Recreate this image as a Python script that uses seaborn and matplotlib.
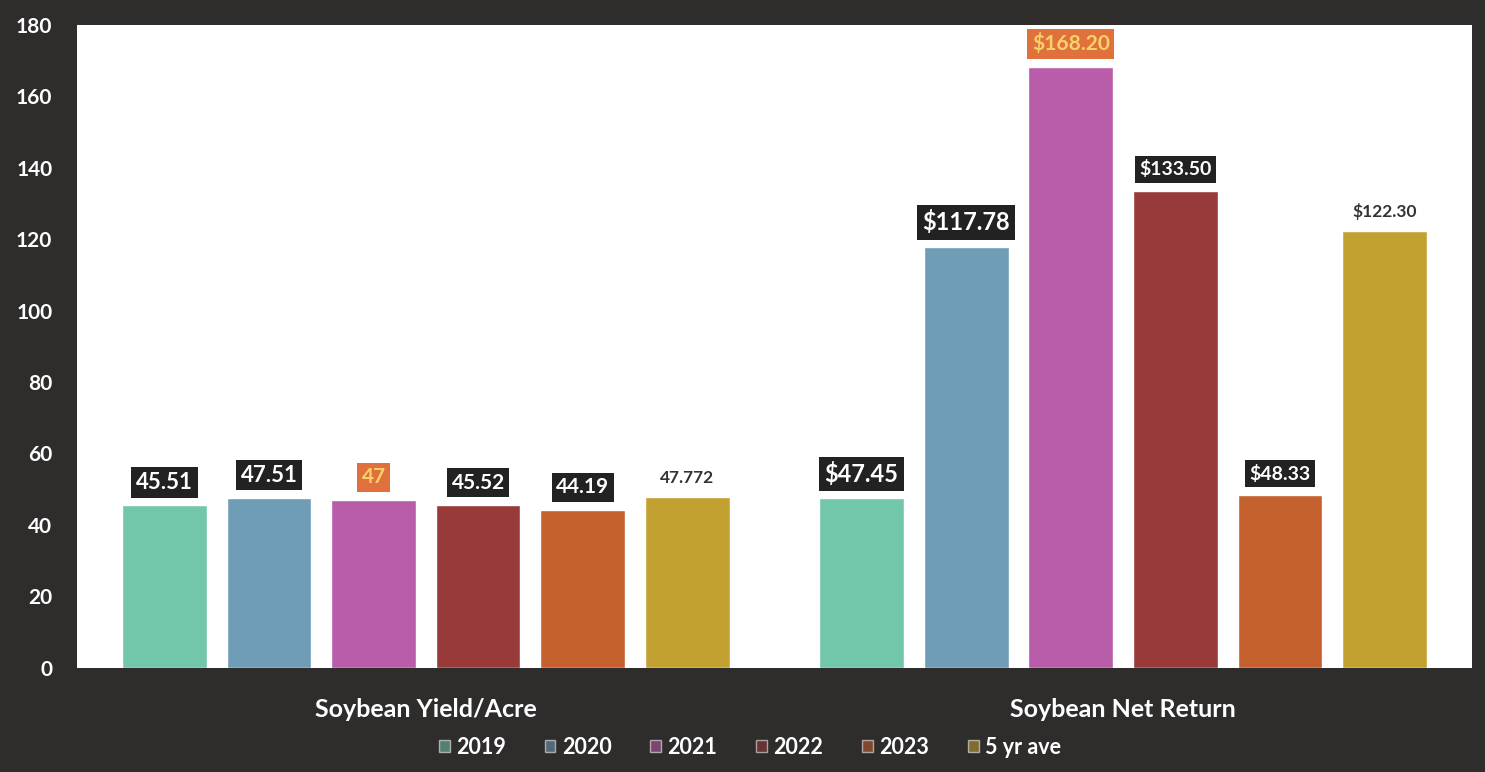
import matplotlib
matplotlib.use("Agg")
import matplotlib.pyplot as plt
import seaborn as sns
import pandas as pd

# data
categories = ["Soybean Yield/Acre", "Soybean Net Return"]
years = ["2019", "2020", "2021", "2022", "2023", "5 yr ave"]
yield_vals = [45.51, 47.51, 47, 45.52, 44.19, 47.772]
return_vals = [47.45, 117.78, 168.20, 133.50, 48.33, 122.30]
yield_labels = ["45.51", "47.51", "47", "45.52", "44.19", "47.772"]
return_labels = ["$47.45", "$117.78", "$168.20", "$133.50", "$48.33", "$122.30"]

colors = ["#72c7ab", "#6f9db6", "#b95ca9", "#983a3a", "#c4612e", "#c3a131"]

df = pd.DataFrame({
    "category": [categories[0]] * len(years) + [categories[1]] * len(years),
    "year": years * 2,
    "value": yield_vals + return_vals,
})
labels = {categories[0]: yield_labels, categories[1]: return_labels}

sns.set_theme(style="white")
plt.rcParams["font.family"] = ["Lato", "DejaVu Sans"]

fig = plt.figure(figsize=(14.85, 7.72), dpi=100)
fig.patch.set_facecolor("#2f2c2c")
ax = fig.add_axes([0.052, 0.135, 0.939, 0.833])
ax.set_facecolor("white")

sns.barplot(data=df, x="category", y="value", hue="year", order=categories,
            hue_order=years, palette=colors, width=0.9, gap=0.19,
            saturation=1, ax=ax, legend=True)

ax.set_ylim(0, 180)
ax.set_yticks(range(0, 181, 20))
ax.set_xlim(-0.5, 1.5)
ax.set_xlabel("")
ax.set_ylabel("")
for s in ax.spines.values():
    s.set_visible(False)
ax.tick_params(axis="y", colors="white", labelsize=15, length=0, pad=18)
ax.tick_params(axis="x", colors="white", labelsize=18, length=0, pad=22)
for t in ax.get_yticklabels() + ax.get_xticklabels():
    t.set_fontweight("bold")

# label styles: dark box by default, special cases below
dark = dict(boxstyle="square,pad=0.22", fc="#222222", ec="none")
orange = dict(boxstyle="square,pad=0.22", fc="#e0703c", ec="none")
for hi, cont in enumerate(ax.containers):
    for ci, bar in enumerate(cont):
        txt = labels[categories[ci]][hi]
        x = bar.get_x() + bar.get_width() / 2
        h = bar.get_height()
        if years[hi] == "5 yr ave":
            ax.annotate(txt, (x, h), xytext=(0, 8), textcoords="offset points",
                        ha="center", va="bottom", fontsize=12.5, color="#333333",
                        fontweight="bold")
        elif years[hi] == "2021":
            ax.annotate(txt, (x, h), xytext=(0, 9), textcoords="offset points",
                        ha="center", va="bottom", fontsize=15, color="#f5d36a",
                        fontweight="bold", bbox=orange)
        else:
            size = 17 if ci == 1 and hi in (0, 1) else 16
            if hi in (3, 4):
                size = 14 if ci == 1 else 15
            ax.annotate(txt, (x, h), xytext=(0, 9), textcoords="offset points",
                        ha="center", va="bottom", fontsize=size, color="white",
                        fontweight="bold", bbox=dark)

handles, leg_labels = ax.get_legend_handles_labels()
ax.get_legend().remove()
leg = fig.legend(handles, leg_labels, loc="center", bbox_to_anchor=(0.505, 0.032),
                 ncol=6, frameon=False, fontsize=15.5, handlelength=0.5,
                 handleheight=0.5, handletextpad=0.3, columnspacing=1.8)
for t in leg.get_texts():
    t.set_color("white")
    t.set_fontweight("bold")
for h in leg.legend_handles:
    h.set_alpha(0.55)

fig.savefig("out.png", dpi=100, facecolor=fig.get_facecolor())
